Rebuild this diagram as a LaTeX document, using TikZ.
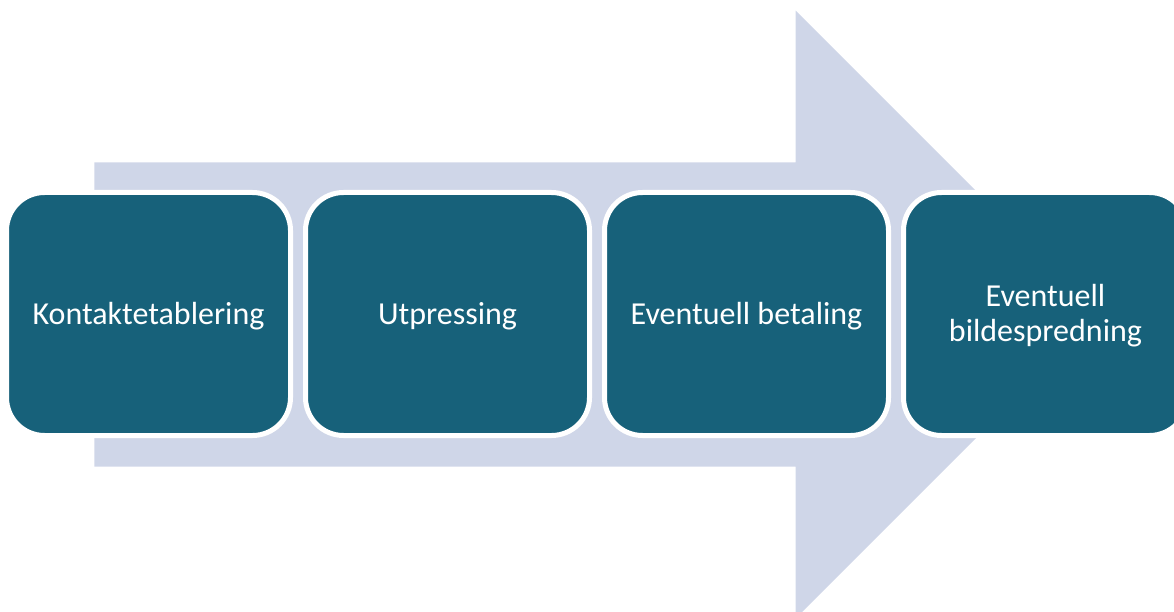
\documentclass[tikz,border=0pt]{standalone}
\usepackage{fontspec}
\setmainfont{Carlito}
\definecolor{arrowfill}{HTML}{CFD6E8}
\definecolor{boxfill}{HTML}{17617A}
\newcommand\stagetxt[1]{\raisebox{-3pt}[\height][\depth]{\begin{tabular}{@{}c@{}}#1\end{tabular}}}
\begin{document}
\begin{tikzpicture}[x=1pt,y=-1pt,
  stage/.style={rectangle, rounded corners=38pt, fill=boxfill, draw=white, line width=5pt,
    minimum width=284pt, minimum height=243pt, inner sep=0pt, text=white, align=center,
    font=\fontsize{32}{35}\selectfont}]
\useasboundingbox (0,0) rectangle (1174,612);
\clip (0,0) rectangle (1174,612);
\fill[arrowfill] (94.3,162.3) -- (795.7,162.3) -- (795.7,10.7) -- (1099.5,314.5)
  -- (795.7,618.3) -- (795.7,466.7) -- (94.3,466.7) -- cycle;
\node[stage] (s1) at (148.5,314) {\stagetxt{Kontaktetablering}};
\node[stage] (s2) at (447.5,314) {\stagetxt{Utpressing}};
\node[stage] (s3) at (746.5,314) {\stagetxt{Eventuell betaling}};
\node[stage] (s4) at (1045.5,314) {\stagetxt{Eventuell\\bildespredning}};
\end{tikzpicture}
\end{document}
